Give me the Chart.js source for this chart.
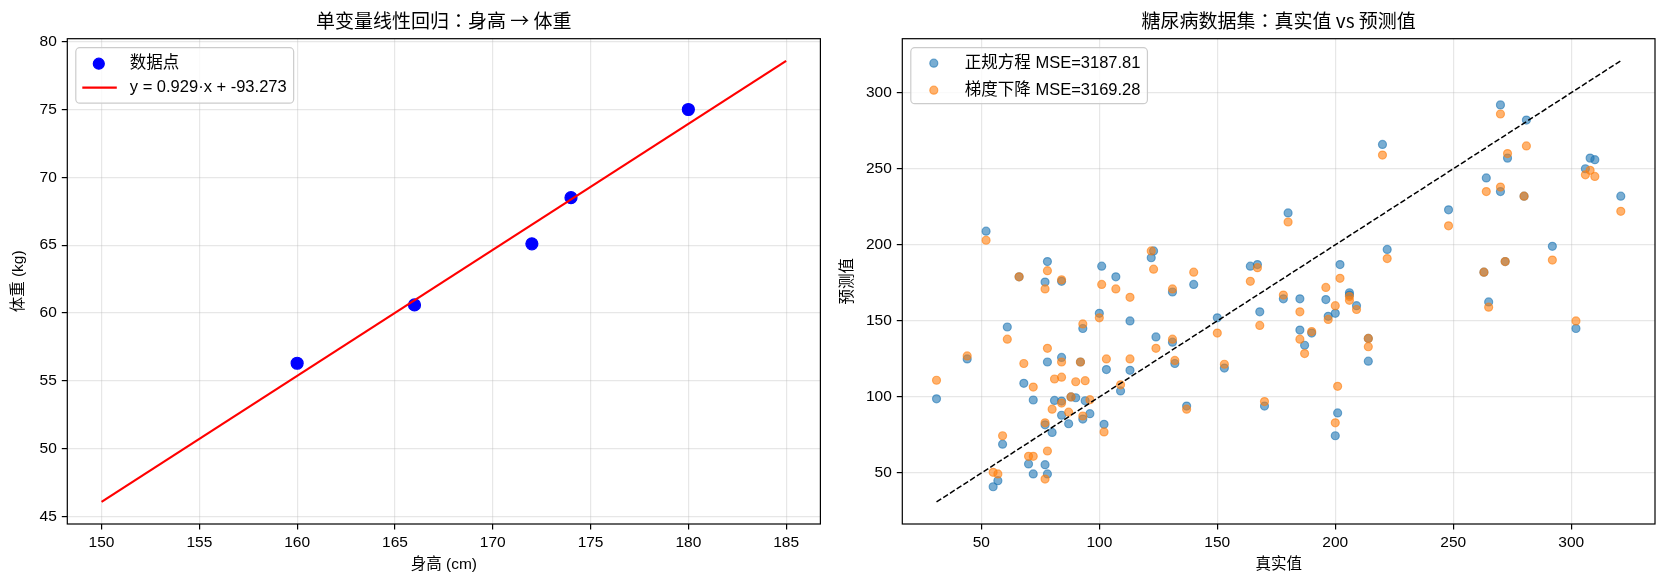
<!DOCTYPE html>
<html>
<head>
<meta charset="utf-8">
<script src="https://cdn.jsdelivr.net/npm/chart.js@4.4.0/dist/chart.umd.min.js"></script>
<style>
  html, body { margin: 0; padding: 0; background: #fff; }
  #wrap { position: relative; width: 1667px; height: 588px; }
  .box { position: absolute; top: 0; height: 588px; }
  #left { left: 0; width: 834px; }
  #right { left: 834px; width: 833px; }
</style>
</head>
<body>
<div id="wrap">
  <div class="box" id="left"><canvas id="c1"></canvas></div>
  <div class="box" id="right"><canvas id="c2"></canvas></div>
</div>
<script>
// ---- left panel: height -> weight
const heights = [160, 166, 172, 174, 180];
const weights = [56.3, 60.6, 65.1, 68.5, 75.0];
const fitX = [150, 185];
const fitY = [46.08, 78.59];
const leftXTicks = [150, 155, 160, 165, 170, 175, 180, 185];
const leftYTicks = [45, 50, 55, 60, 65, 70, 75, 80];

// ---- right panel: diabetes true vs predicted
const yTrue = [31, 44, 52, 55, 57, 59, 61, 66, 68, 70, 72, 72, 77, 77, 77, 78, 78, 78, 80, 81,
  84, 84, 84, 84, 87, 88, 90, 92, 93, 93, 94, 96, 100, 101, 102, 103, 107, 109, 113, 113,
  122, 123, 124, 131, 131, 132, 137, 140, 150, 153, 164, 167, 168, 170, 178, 180, 185, 185, 187, 190,
  196, 197, 200, 200, 201, 202, 206, 206, 209, 214, 214, 220, 222, 248, 263, 264, 265, 270, 270, 272,
  273, 280, 281, 292, 302, 306, 308, 310, 321];
const predNormal = [98.8, 125, 209, 41, 45, 69, 146, 179, 109, 56, 49.4, 98, 81.7, 55.5, 175.5, 189, 123, 49.4, 76.7, 97.7,
  97.3, 88, 176, 126, 82.4, 100, 99.5, 123, 85.5, 145, 97.5, 89, 155, 186, 82, 118, 179, 104, 150, 117.5,
  191.5, 196, 139.5, 169, 136, 122, 94, 174, 152, 119, 186, 187, 156, 94, 164.5, 221, 164.5, 144, 134, 142,
  164, 153, 155, 74.5, 89.5, 187, 168.5, 167, 160, 138.5, 123.5, 266, 197, 223, 182, 244, 162.5, 292, 235, 189,
  257, 232, 282, 199, 145, 250, 257, 256, 232];
const predGD = [111, 127, 203, 50.5, 49.4, 74.5, 138, 179, 122, 61, 61, 106.5, 83, 46, 171, 183, 132, 64.5, 92, 111.8,
  113, 96, 177, 123, 90, 100, 110, 123, 87.5, 148, 110.7, 98.2, 152, 174, 77, 125, 171, 108, 165.5, 125,
  196, 184, 132, 171, 138, 124, 92, 182, 142, 121.5, 176, 185, 147, 97, 167, 215, 156, 138, 128.5, 143,
  172, 151, 160, 83, 107, 178, 166, 163.5, 157.5, 138.5, 133, 259, 191, 212.5, 182, 235, 159, 286, 238, 189,
  260, 232, 265, 190, 150, 246, 249, 245, 222];
const diagX = [31, 321];
const rightTicks = [50, 100, 150, 200, 250, 300];

const FONT = '"Liberation Sans", "Noto Sans CJK SC", sans-serif';
const TITLE_FONT = '"Noto Sans CJK TC", "Noto Sans CJK SC", sans-serif';

const framePlugin = {
  id: 'frame',
  afterDatasetsDraw(chart) {
    const { ctx, chartArea: a } = chart;
    ctx.save();
    ctx.strokeStyle = '#000';
    ctx.lineWidth = 1.2;
    ctx.strokeRect(a.left, a.top, a.right - a.left, a.bottom - a.top);
    ctx.restore();
  }
};

// matplotlib-like legend box in the upper-left corner of the plot area
const boxLegend = {
  id: 'boxLegend',
  afterDraw(chart, args, opts) {
    const { ctx, chartArea: a } = chart;
    const ds = chart.data.datasets;
    ctx.save();
    ctx.font = opts.fontSize + 'px ' + FONT;
    const tw = Math.max(...opts.items.map(it => ctx.measureText(ds[it.ds].label).width));
    const x = a.left + 8.5, y = a.top + 9;
    const w = 54 + tw + 7, h = opts.height, r = 4;
    ctx.beginPath();
    ctx.moveTo(x + r, y);
    ctx.arcTo(x + w, y, x + w, y + h, r);
    ctx.arcTo(x + w, y + h, x, y + h, r);
    ctx.arcTo(x, y + h, x, y, r);
    ctx.arcTo(x, y, x + w, y, r);
    ctx.closePath();
    ctx.fillStyle = 'rgba(255,255,255,0.8)';
    ctx.fill();
    ctx.strokeStyle = '#cccccc';
    ctx.lineWidth = 1.2;
    ctx.stroke();
    opts.items.forEach((it, i) => {
      const d = ds[it.ds];
      const cy = y + opts.rows[i];
      if (it.kind === 'circle') {
        ctx.beginPath();
        ctx.arc(x + 23, cy, it.radius, 0, Math.PI * 2);
        ctx.fillStyle = d.backgroundColor;
        ctx.fill();
        ctx.strokeStyle = d.borderColor;
        ctx.lineWidth = 1.2;
        ctx.stroke();
      } else {
        ctx.beginPath();
        ctx.moveTo(x + 6.5, cy);
        ctx.lineTo(x + 41, cy);
        ctx.strokeStyle = d.borderColor;
        ctx.lineWidth = d.borderWidth;
        ctx.setLineDash(d.borderDash || []);
        ctx.stroke();
        ctx.setLineDash([]);
      }
      ctx.fillStyle = '#000';
      ctx.textBaseline = 'middle';
      ctx.textAlign = 'left';
      ctx.fillText(d.label, x + 54, cy);
    });
    ctx.restore();
  }
};

function axis(ticks, min, max, title, titlePad, fitSize, horizontal) {
  return {
    type: 'linear',
    min: min,
    max: max,
    afterBuildTicks: s => { s.ticks = ticks.map(v => ({ value: v })); },
    afterFit: s => { if (horizontal) s.height = fitSize; else s.width = fitSize; },
    grid: {
      color: 'rgba(176,176,176,0.3)',
      lineWidth: 1.2,
      tickColor: '#000',
      tickLength: 5.5,
      tickWidth: 1.2
    },
    border: { display: false },
    ticks: {
      color: '#000',
      font: { family: FONT, size: 15.5 },
      padding: horizontal ? 4 : 5,
      maxRotation: 0
    },
    title: {
      display: true,
      text: title,
      color: '#000',
      font: { family: FONT, size: 15.5 },
      padding: titlePad
    }
  };
}

function plotTitle(text) {
  return {
    display: true,
    text: text,
    color: '#000',
    fullSize: false,
    font: { family: TITLE_FONT, size: 19, weight: 'normal' },
    padding: { top: 9.6, bottom: 6.3 }
  };
}

Chart.defaults.animation = false;

new Chart(document.getElementById('c1'), {
  type: 'scatter',
  data: {
    datasets: [
      {
        label: 'y = 0.929\u00b7x + -93.273',
        type: 'line',
        data: fitX.map((v, i) => ({ x: v, y: fitY[i] })),
        borderColor: '#ff0000',
        borderWidth: 2.2,
        pointRadius: 0,
        fill: false,
        order: 0
      },
      {
        label: '数据点',
        data: heights.map((v, i) => ({ x: v, y: weights[i] })),
        backgroundColor: '#0000ff',
        borderColor: '#0000ff',
        borderWidth: 1.2,
        pointRadius: 6,
        order: 1
      }
    ]
  },
  options: {
    responsive: true,
    maintainAspectRatio: false,
    events: [],
    layout: { padding: { left: 0, right: 13.6, top: 0, bottom: 0 } },
    scales: {
      x: axis(leftXTicks, 148.25, 186.75, '身高 (cm)', { top: 0, bottom: 14 }, 64, true),
      y: axis(leftYTicks, 44.45, 80.22, '体重 (kg)', { top: 9, bottom: 0 }, 67.3, false)
    },
    plugins: {
      legend: { display: false },
      tooltip: { enabled: false },
      title: plotTitle('单变量线性回归：身高 → 体重'),
      boxLegend: {
        fontSize: 16.5,
        height: 55.5,
        rows: [16, 40],
        items: [{ ds: 1, kind: 'circle', radius: 5.5 }, { ds: 0, kind: 'line' }]
      }
    }
  },
  plugins: [framePlugin, boxLegend]
});

new Chart(document.getElementById('c2'), {
  type: 'scatter',
  data: {
    datasets: [
      {
        label: '正规方程 MSE=3187.81',
        data: yTrue.map((v, i) => ({ x: v, y: predNormal[i] })),
        backgroundColor: 'rgba(31,119,180,0.6)',
        borderColor: 'rgba(31,119,180,0.6)',
        borderWidth: 1.2,
        pointRadius: 4,
        order: 2
      },
      {
        label: '梯度下降 MSE=3169.28',
        data: yTrue.map((v, i) => ({ x: v, y: predGD[i] })),
        backgroundColor: 'rgba(255,127,14,0.6)',
        borderColor: 'rgba(255,127,14,0.6)',
        borderWidth: 1.2,
        pointRadius: 4,
        order: 1
      },
      {
        label: '理想',
        type: 'line',
        data: diagX.map(v => ({ x: v, y: v })),
        borderColor: '#000',
        borderWidth: 1.5,
        borderDash: [5.6, 2.4],
        pointRadius: 0,
        fill: false,
        order: 0
      }
    ]
  },
  options: {
    responsive: true,
    maintainAspectRatio: false,
    events: [],
    layout: { padding: { left: 0, right: 12, top: 0, bottom: 0 } },
    scales: {
      x: axis(rightTicks, 16.5, 335.5, '真实值', { top: 0, bottom: 14 }, 64, true),
      y: axis(rightTicks, 16.5, 335.5, '预测值', { top: 4, bottom: 0 }, 68.3, false)
    },
    plugins: {
      legend: { display: false },
      tooltip: { enabled: false },
      title: plotTitle('糖尿病数据集：真实值 vs 预测值'),
      boxLegend: {
        fontSize: 16.5,
        height: 56,
        rows: [15.5, 42.5],
        items: [{ ds: 0, kind: 'circle', radius: 4 }, { ds: 1, kind: 'circle', radius: 4 }]
      }
    }
  },
  plugins: [framePlugin, boxLegend]
});
</script>
</body>
</html>
